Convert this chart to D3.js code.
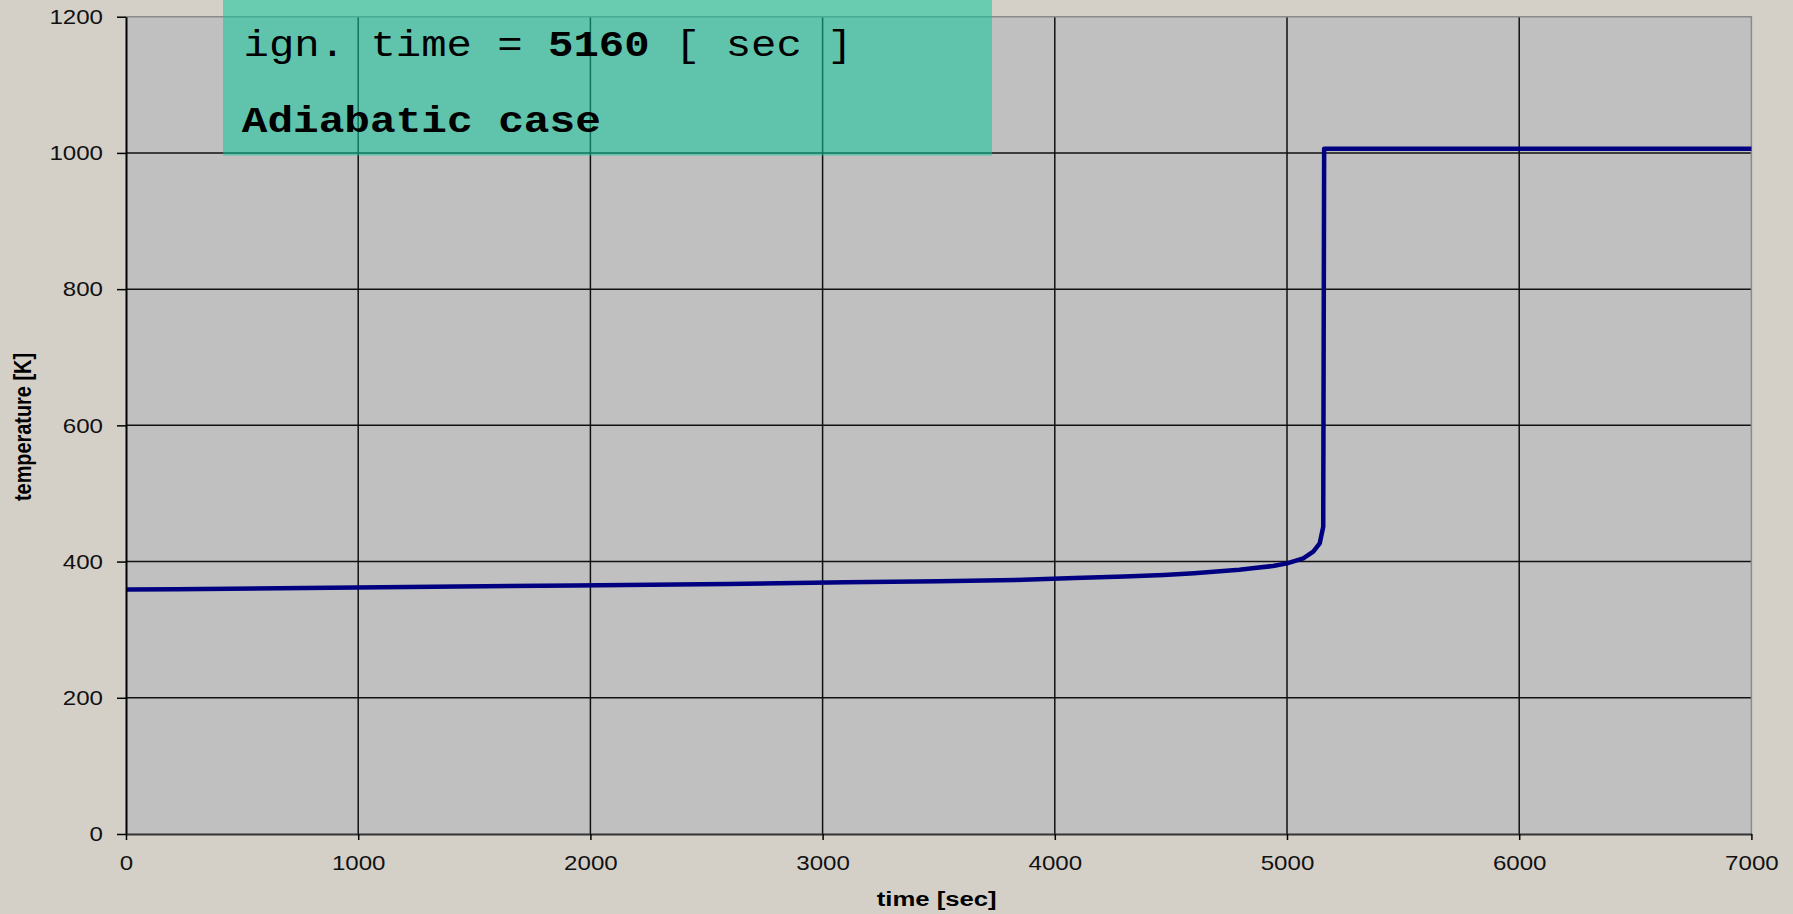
<!DOCTYPE html>
<html>
<head>
<meta charset="utf-8">
<script src="https://cdn.jsdelivr.net/npm/d3@7"></script>
<style>
  html, body { margin: 0; padding: 0; background: #d4d0c8; }
</style>
</head>
<body>
<div id="okvir"></div>
<script>
// time [sec] and temperature [K]
var vrijeme = [0, 215, 990, 1930, 2590, 3100, 3500, 3830, 4085, 4300, 4470, 4600, 4710, 4795, 4860, 4940, 5000, 5070, 5113, 5141, 5156, 5160, 7000];
var temperatura = [359, 359.5, 362, 365, 367, 369.5, 371, 373, 376, 378, 380.3, 383, 385.7, 388, 390.5, 393.5, 397.4, 404.8, 414.5, 426.8, 451, 1006, 1006];

var xTicks = [0, 1000, 2000, 3000, 4000, 5000, 6000, 7000];
var yTicks = [0, 200, 400, 600, 800, 1000, 1200];

var naslovX = "time [sec]";
var naslovY = "temperature [K]";
var ignTime = 5160;
var slucaj = "Adiabatic case";

function crtaj() {
    var width = 1793;
    var height = 914;
    var margin = { top: 16.7, right: 41.6, bottom: 80, left: 126 };

    var svg = d3.select("#okvir")
        .append("svg")
        .attr("width", width)
        .attr("height", height)
        .style("display", "block");

    // background
    svg.append("rect")
        .attr("width", width)
        .attr("height", height)
        .attr("fill", "#d4d0c8");

    var x = d3.scaleLinear()
        .domain([0, 7000])
        .range([margin.left, width - margin.right]);

    var y = d3.scaleLinear()
        .domain([0, 1200])
        .range([height - margin.bottom, margin.top]);

    // plot area
    svg.append("rect")
        .attr("x", x(0))
        .attr("y", y(1200))
        .attr("width", x(7000) - x(0))
        .attr("height", y(0) - y(1200))
        .attr("fill", "#c0c0c0");

    // grid lines
    svg.append("g")
        .selectAll("line")
        .data(yTicks.filter(d => d > 0 && d < 1200))
        .enter()
        .append("line")
        .attr("x1", x(0))
        .attr("x2", x(7000))
        .attr("y1", d => y(d))
        .attr("y2", d => y(d))
        .attr("stroke", "#111")
        .attr("stroke-width", 1.5);

    svg.append("g")
        .selectAll("line")
        .data(xTicks.filter(d => d > 0 && d < 7000))
        .enter()
        .append("line")
        .attr("y1", y(0))
        .attr("y2", y(1200))
        .attr("x1", d => x(d))
        .attr("x2", d => x(d))
        .attr("stroke", "#111")
        .attr("stroke-width", 1.5);

    // top and right border
    svg.append("path")
        .attr("d", "M" + x(0) + "," + y(1200) + "H" + x(7000) + "V" + y(0))
        .attr("fill", "none")
        .attr("stroke", "#8a8a8a")
        .attr("stroke-width", 1.5);

    // temperature line
    var linija = d3.line()
        .x((d, i) => x(vrijeme[i]))
        .y(d => y(d));

    svg.append("path")
        .datum(temperatura)
        .attr("d", linija)
        .attr("fill", "none")
        .attr("stroke", "#000080")
        .attr("stroke-width", 4.5)
        .attr("stroke-linejoin", "round");

    // y axis
    var yOs = svg.append("g")
        .attr("transform", "translate(" + margin.left + ",0)")
        .call(d3.axisLeft(y).tickValues(yTicks).tickFormat(d3.format("d")).tickSize(9).tickPadding(14).tickSizeOuter(0));
    yOs.select(".domain").attr("stroke", "#000").attr("stroke-width", 2);
    yOs.selectAll(".tick line").attr("stroke", "#000").attr("stroke-width", 1.5);
    yOs.selectAll("text")
        .style("font-family", "'Liberation Sans', Arial, sans-serif")
        .style("font-size", "21px")
        .attr("fill", "#111")
        .attr("textLength", d => String(d).length * 13.4)
        .attr("lengthAdjust", "spacingAndGlyphs");

    // x axis
    var xOs = svg.append("g")
        .attr("transform", "translate(0," + (height - margin.bottom) + ")")
        .call(d3.axisBottom(x).tickValues(xTicks).tickFormat(d3.format("d")).tickSize(6).tickPadding(15).tickSizeOuter(0));
    xOs.select(".domain").attr("stroke", "#333").attr("stroke-width", 2);
    xOs.selectAll(".tick line").attr("stroke", "#000").attr("stroke-width", 1.5);
    xOs.selectAll("text")
        .style("font-family", "'Liberation Sans', Arial, sans-serif")
        .style("font-size", "21px")
        .attr("fill", "#111")
        .attr("textLength", d => String(d).length * 13.4)
        .attr("lengthAdjust", "spacingAndGlyphs");

    // axis titles
    svg.append("text")
        .attr("x", 936.7)
        .attr("y", 906)
        .attr("text-anchor", "middle")
        .attr("textLength", 120)
        .attr("lengthAdjust", "spacingAndGlyphs")
        .style("font-family", "'Liberation Sans', Arial, sans-serif")
        .style("font-weight", "bold")
        .style("font-size", "20px")
        .text(naslovX);

    svg.append("text")
        .attr("transform", "translate(30.5,427) rotate(-90)")
        .attr("text-anchor", "middle")
        .attr("textLength", 148)
        .attr("lengthAdjust", "spacingAndGlyphs")
        .style("font-family", "'Liberation Sans', Arial, sans-serif")
        .style("font-weight", "bold")
        .style("font-size", "24px")
        .text(naslovY);

    // annotation box
    svg.append("rect")
        .attr("x", 223)
        .attr("y", 0)
        .attr("width", 769)
        .attr("height", 155.5)
        .attr("fill", "rgb(16,199,156)")
        .attr("fill-opacity", 0.55);

    var red1 = svg.append("text")
        .attr("x", 243.6)
        .attr("y", 56)
        .attr("textLength", 609)
        .attr("lengthAdjust", "spacingAndGlyphs")
        .style("font-family", "'Liberation Mono', 'Courier New', monospace")
        .style("font-size", "37px")
        .attr("fill", "#000")
        .attr("xml:space", "preserve");
    red1.append("tspan").text("ign. time = ");
    red1.append("tspan").style("font-weight", "bold").text(ignTime);
    red1.append("tspan").text(" [ sec ]");

    svg.append("text")
        .attr("x", 241.8)
        .attr("y", 132)
        .attr("textLength", 359)
        .attr("lengthAdjust", "spacingAndGlyphs")
        .style("font-family", "'Liberation Mono', 'Courier New', monospace")
        .style("font-weight", "bold")
        .style("font-size", "37px")
        .attr("fill", "#000")
        .text(slucaj);
}
crtaj();
</script>
</body>
</html>
